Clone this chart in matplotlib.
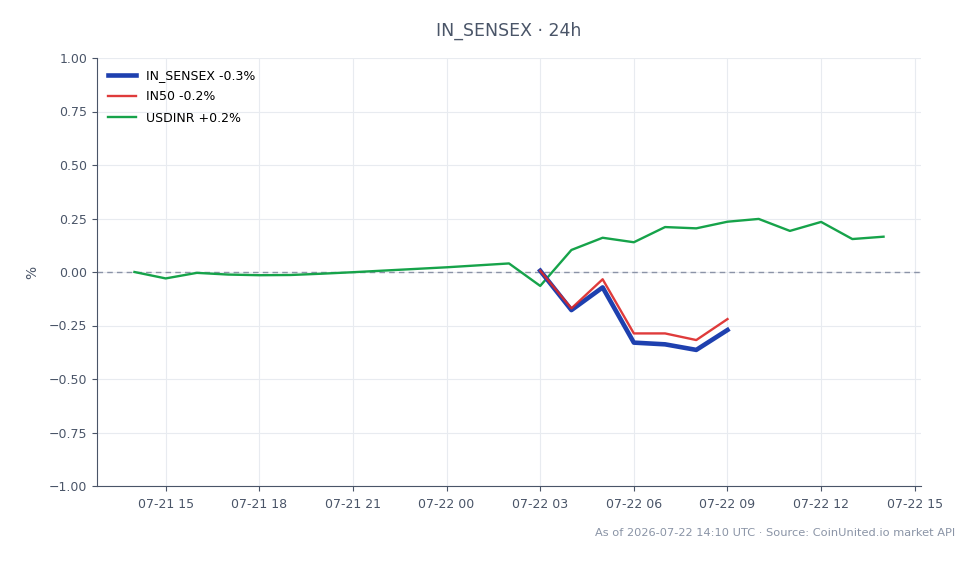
import matplotlib
matplotlib.use("Agg")
import matplotlib.pyplot as plt
import matplotlib.dates as mdates
import pandas as pd

# hourly timestamps, 07-21 14:00 .. 07-22 14:00
usdinr_times = pd.to_datetime([
    "2026-07-21 14:00", "2026-07-21 15:00", "2026-07-21 16:00", "2026-07-21 17:00",
    "2026-07-21 18:00", "2026-07-21 19:00", "2026-07-21 20:00", "2026-07-21 21:00",
    "2026-07-22 00:00", "2026-07-22 02:00", "2026-07-22 03:00", "2026-07-22 04:00",
    "2026-07-22 05:00", "2026-07-22 06:00", "2026-07-22 07:00", "2026-07-22 08:00",
    "2026-07-22 09:00", "2026-07-22 10:00", "2026-07-22 11:00", "2026-07-22 12:00",
    "2026-07-22 13:00", "2026-07-22 14:00",
])
usdinr_pct = [0.0, -0.03, -0.004, -0.012, -0.015, -0.014, -0.008, -0.001,
              0.022, 0.04, -0.065, 0.103, 0.16, 0.139, 0.21, 0.204,
              0.235, 0.248, 0.192, 0.234, 0.154, 0.165]

india_times = pd.to_datetime([
    "2026-07-22 03:00", "2026-07-22 04:00", "2026-07-22 05:00", "2026-07-22 06:00",
    "2026-07-22 07:00", "2026-07-22 08:00", "2026-07-22 09:00",
])
sensex_pct = [0.006, -0.178, -0.072, -0.33, -0.338, -0.364, -0.271]
in50_pct = [0.006, -0.170, -0.034, -0.287, -0.287, -0.318, -0.220]

title = "IN_SENSEX \u00b7 24h"
footer = "As of 2026-07-22 14:10 UTC \u00b7 Source: CoinUnited.io market API"

text_col = "#4a5568"
fig = plt.figure(figsize=(9.78, 5.64), dpi=100)
ax = fig.add_axes([97 / 978, 1 - 486 / 564, (921 - 97) / 978, (486 - 58) / 564])

ax.plot(india_times, sensex_pct, color="#1e40af", lw=3.3, label="IN_SENSEX -0.3%", zorder=3)
ax.plot(india_times, in50_pct, color="#dc2626", lw=1.7, alpha=0.9, label="IN50 -0.2%", zorder=4)
ax.plot(usdinr_times, usdinr_pct, color="#16a34a", lw=1.7, label="USDINR +0.2%", zorder=2)
ax.axhline(0, color="#8b93a7", lw=1, ls=(0, (4, 3)), zorder=1)

ax.set_ylim(-1, 1)
ax.set_yticks([-1, -0.75, -0.5, -0.25, 0, 0.25, 0.5, 0.75, 1])
ax.xaxis.set_major_locator(mdates.HourLocator(byhour=range(0, 24, 3)))
ax.xaxis.set_major_formatter(mdates.DateFormatter("%m-%d %H"))

ax.grid(True, color="#e8ebf0", lw=0.8)
ax.set_axisbelow(True)
for s in ("top", "right"):
    ax.spines[s].set_visible(False)
for s in ("left", "bottom"):
    ax.spines[s].set_color(text_col)
ax.tick_params(colors=text_col, labelsize=9)
ax.tick_params(axis="x", pad=5)
ax.set_ylabel("%", color=text_col, fontsize=10, labelpad=7)

ax.legend(loc="upper left", frameon=False, fontsize=9, handlelength=2.2, labelspacing=0.65)
fig.text(0.52, 1 - 31 / 564, title, ha="center", va="center", fontsize=12.5, color=text_col)
fig.text(955 / 978, 1 - 533 / 564, footer, ha="right", va="center", fontsize=8.2, color="#8a94a6")

fig.savefig("out.png", dpi=100)
